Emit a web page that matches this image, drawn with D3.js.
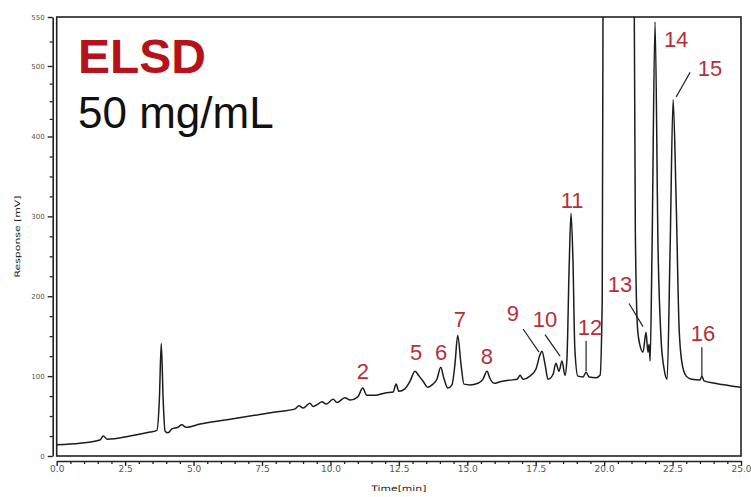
<!DOCTYPE html>
<html>
<head>
<meta charset="utf-8">
<script src="https://cdn.jsdelivr.net/npm/d3@7"></script>
<style>
  body { margin: 0; background: #fff; }
  svg { display: block; }
</style>
</head>
<body>
<svg id="chart" width="751" height="497"></svg>
<script>
// ELSD chromatogram trace: retention time (min) and detector response (mV)
const timeMin = [
  0.00, 0.85, 1.58, 1.70, 1.85, 2.68, 3.41, 3.66, 3.75, 3.82, 3.89, 3.96, 4.07, 4.21, 4.43, 4.57, 4.73,
  5.24, 6.15, 7.06, 7.98, 8.71, 8.85, 9.00, 9.25, 9.37, 9.55, 9.69, 9.84, 10.10, 10.24, 10.53, 10.72,
  11.00, 11.18, 11.33, 11.63, 12.00, 12.29, 12.40, 12.50, 12.72, 12.90, 13.09, 13.24, 13.38, 13.56,
  13.71, 13.89, 14.03, 14.14, 14.29, 14.44, 14.55, 14.65, 14.77, 14.88, 15.10, 15.39, 15.57, 15.72,
  15.83, 15.98, 16.20, 16.57, 16.82, 16.93, 17.04, 17.29, 17.51, 17.66, 17.73, 17.84, 17.95, 18.13,
  18.24, 18.35, 18.46, 18.57, 18.64, 18.72, 18.79, 18.86, 18.93, 19.04, 19.23, 19.34, 19.45, 19.71,
  19.85, 19.93, 19.97, 20.50, 21.08, 21.14, 21.22, 21.30, 21.42, 21.53, 21.60, 21.64, 21.68, 21.75,
  21.86, 21.97, 22.08, 22.19, 22.30, 22.41, 22.52, 22.63, 22.74, 22.85, 23.00, 23.20, 23.50, 23.57,
  23.65, 24.05, 25.00
];
const responseMv = [
  14, 16, 20, 25, 21, 25, 30, 32, 70, 141, 70, 31, 29, 34, 36, 39, 36,
  40, 45, 50, 55, 59, 63, 60, 66, 62, 65, 68, 65, 71, 67, 73, 70,
  74, 85, 76, 76, 79, 80, 90, 81, 84, 93, 106, 100, 94, 86,
  89, 96, 111, 98, 85, 89, 115, 151, 115, 90, 89, 91, 96, 106,
  97, 91, 93, 95, 96, 101, 96, 100, 109, 127, 131, 115, 96, 102,
  116, 106, 119, 101, 121, 234, 304, 246, 134, 100, 99, 105, 99, 98,
  101, 196, 700, 3000, 700, 280, 160, 140, 130, 155, 130, 140, 119, 259,
  545, 259, 146, 109, 96, 259, 452, 321, 159, 115, 100, 96, 95, 100,
  94, 91, 86
];

// Axis ticks
const xMajorTicks = [0, 2.5, 5, 7.5, 10, 12.5, 15, 17.5, 20, 22.5, 25];
const yMajorTicks = [0, 100, 200, 300, 400, 500, 550];

// Peak numbers and where each number sits (time, response)
const peakNames    = ["2", "5", "6", "7", "8", "9", "10", "11", "12", "13", "14", "15", "16"];
const peakLabelT   = [11.19, 13.13, 14.04, 14.73, 15.72, 16.67, 17.84, 18.83, 19.48, 20.58, 22.63, 23.87, 23.61];
const peakLabelV   = [96, 120, 120, 161, 115, 169, 162, 311, 152, 205, 519, 486, 144];

// Leader lines from a number to its peak: [t1, v1, t2, v2]
const leaderLines = [
  [17.04, 159, 17.62, 130],
  [17.84, 152, 18.39, 125],
  [19.34, 144, 19.34, 106],
  [20.91, 191, 21.42, 162],
  [23.14, 491, 22.63, 456],
  [23.57, 136, 23.57, 100]
];

const svg = d3.select("#chart");

const x = d3.scaleLinear().domain([0, 25]).range([56.7, 741]);
const y = d3.scaleLinear().domain([0, 400, 500, 550]).range([456, 136.5, 66, 17]);

const plotTop = y(550), plotBottom = y(0);

// Clip the trace to the plot frame
svg.append("defs").append("clipPath").attr("id", "plotClip")
  .append("rect")
  .attr("x", x(0)).attr("y", plotTop)
  .attr("width", x(25) - x(0)).attr("height", plotBottom - plotTop);

// Frame
svg.append("rect")
  .attr("x", x(0)).attr("y", plotTop)
  .attr("width", x(25) - x(0)).attr("height", plotBottom - plotTop)
  .attr("fill", "none").attr("stroke", "#222").attr("stroke-width", 1.6);

// X axis (offset below the frame)
const xAxisY = plotBottom + 5;
const xMinor = d3.range(0, 25.001, 0.5).filter(v => !xMajorTicks.some(m => Math.abs(m - v) < 1e-6));

const gxMinor = svg.append("g").attr("transform", `translate(0,${xAxisY})`)
  .call(d3.axisBottom(x).tickValues(xMinor).tickSize(3).tickSizeOuter(0).tickFormat(""));
gxMinor.select(".domain").remove();
gxMinor.selectAll("line").attr("stroke", "#222").attr("stroke-width", 1.3);

const gx = svg.append("g").attr("transform", `translate(0,${xAxisY})`)
  .call(d3.axisBottom(x).tickValues(xMajorTicks).tickSize(5).tickSizeOuter(0)
    .tickFormat(d3.format(".1f")));
gx.select(".domain").attr("stroke", "#222").attr("stroke-width", 1.6);
gx.selectAll(".tick line").attr("stroke", "#222").attr("stroke-width", 1.4);
gx.selectAll(".tick text")
  .attr("y", 11).attr("dy", "0")
  .attr("font-family", "DejaVu Sans, sans-serif").attr("font-size", 9)
  .attr("fill", "#555");

// Y axis (offset left of the frame)
const yAxisX = x(0) - 4;
const yMinor = d3.range(0, 550.001, 25).filter(v => !yMajorTicks.includes(v));

const gyMinor = svg.append("g").attr("transform", `translate(${yAxisX},0)`)
  .call(d3.axisLeft(y).tickValues(yMinor).tickSize(3).tickSizeOuter(0).tickFormat(""));
gyMinor.select(".domain").remove();
gyMinor.selectAll("line").attr("stroke", "#222").attr("stroke-width", 1.3);

const gy = svg.append("g").attr("transform", `translate(${yAxisX},0)`)
  .call(d3.axisLeft(y).tickValues(yMajorTicks).tickSize(5).tickSizeOuter(0)
    .tickFormat(d3.format("d")));
gy.select(".domain").attr("stroke", "#222").attr("stroke-width", 1.6);
gy.selectAll(".tick line").attr("stroke", "#222").attr("stroke-width", 1.4);
gy.selectAll(".tick text")
  .attr("x", -8)
  .attr("font-family", "DejaVu Sans, sans-serif").attr("font-size", 7)
  .attr("fill", "#555");

// Axis titles
svg.append("text")
  .attr("x", (x(0) + x(25)) / 2).attr("y", 491)
  .attr("text-anchor", "middle")
  .attr("font-family", "DejaVu Sans, sans-serif").attr("font-size", 7.5)
  .attr("textLength", 55).attr("lengthAdjust", "spacingAndGlyphs")
  .attr("fill", "#222")
  .text("Time[min]");

svg.append("text")
  .attr("transform", `translate(20,${(plotTop + plotBottom) / 2}) rotate(-90)`)
  .attr("text-anchor", "middle")
  .attr("font-family", "DejaVu Sans, sans-serif").attr("font-size", 7.5)
  .attr("textLength", 82).attr("lengthAdjust", "spacingAndGlyphs")
  .attr("fill", "#222")
  .text("Response [mV]");

// Chromatogram trace
const trace = timeMin.map((t, i) => [t, responseMv[i]]);
svg.append("path")
  .datum(trace)
  .attr("clip-path", "url(#plotClip)")
  .attr("fill", "none")
  .attr("stroke", "#1c1c1c")
  .attr("stroke-width", 1.5)
  .attr("stroke-linejoin", "round")
  .attr("d", d3.line().x(d => x(d[0])).y(d => y(d[1])).curve(d3.curveMonotoneX));

// Leader lines
svg.append("g").selectAll("line")
  .data(leaderLines)
  .join("line")
  .attr("x1", d => x(d[0])).attr("y1", d => y(d[1]))
  .attr("x2", d => x(d[2])).attr("y2", d => y(d[3]))
  .attr("stroke", "#222").attr("stroke-width", 1.2);

// Peak numbers
svg.append("g").selectAll("text")
  .data(peakNames)
  .join("text")
  .attr("x", (d, i) => x(peakLabelT[i]))
  .attr("y", (d, i) => y(peakLabelV[i]))
  .attr("text-anchor", "middle")
  .attr("font-family", "Liberation Sans, Arial, sans-serif")
  .attr("font-size", 22)
  .attr("fill", "#b5303a")
  .text(d => d);

// Detector and concentration captions
svg.append("text")
  .attr("x", 78).attr("y", 73)
  .attr("font-family", "Liberation Sans, Arial, sans-serif")
  .attr("font-size", 48).attr("font-weight", "bold")
  .attr("fill", "#b5121b")
  .text("ELSD");

svg.append("text")
  .attr("x", 78).attr("y", 128)
  .attr("font-family", "Liberation Sans, Arial, sans-serif")
  .attr("font-size", 44)
  .attr("fill", "#111")
  .text("50 mg/mL");
</script>
</body>
</html>
